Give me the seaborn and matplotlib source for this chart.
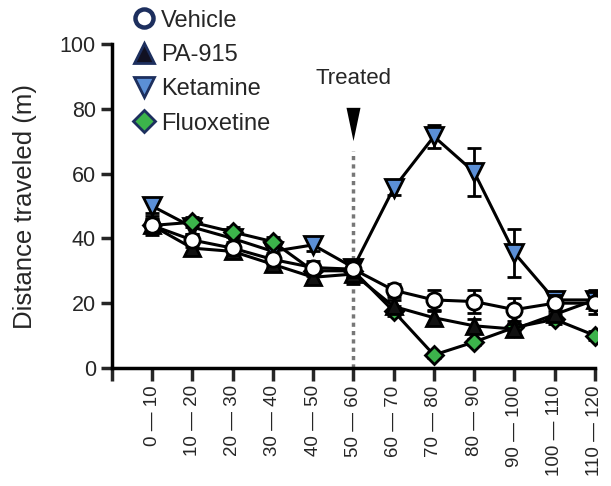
import matplotlib

matplotlib.use("Agg")

import matplotlib.pyplot as plt
import pandas as pd
import seaborn as sns
from matplotlib.lines import Line2D

# Time bins (min) and group means / SEM
bins = ["0 — 10", "10 — 20", "20 — 30", "30 — 40", "40 — 50", "50 — 60",
        "60 — 70", "70 — 80", "80 — 90", "90 — 100", "100 — 110", "110 — 120"]
groups = ["Ketamine", "Fluoxetine", "PA-915", "Vehicle"]  # draw order (Vehicle on top)

vehicle = [44, 39.5, 37, 33.5, 31, 30.5, 24, 21, 20.5, 18, 20, 20]
vehicle_sem = [3, 2, 2, 2, 2, 2.5, 2, 3, 3.5, 3.5, 2.5, 3.5]
pa915 = [44, 37, 36, 32, 28, 29, 19, 15.5, 13, 12, 16.5, 21]
pa915_sem = [2, 2, 2, 2, 2, 3, 2, 2, 2, 1.5, 2, 3]
ketamine = [50, 43.5, 40, 36, 38, 31, 55.5, 71.5, 60.5, 35.5, 21, 21]
ketamine_sem = [2, 2, 2, 2, 2, 2, 2, 3.5, 7.5, 7.5, 2, 2]
fluoxetine = [44, 45, 42, 39, 30, 30, 17.5, 4, 8, 12.5, 15, 10]
fluoxetine_sem = [2, 1.5, 1.5, 1.5, 1.5, 2, 1.5, 1, 1, 1, 1.5, 1.5]

means = {"Vehicle": vehicle, "PA-915": pa915, "Ketamine": ketamine, "Fluoxetine": fluoxetine}
sems = {"Vehicle": vehicle_sem, "PA-915": pa915_sem, "Ketamine": ketamine_sem, "Fluoxetine": fluoxetine_sem}

treated_bin = 6  # 50—60

styles = {
    "Vehicle": dict(marker="o", color="white", size=11),
    "PA-915": dict(marker="^", color="#111111", size=11),
    "Ketamine": dict(marker="v", color="#5b8fd6", size=12.5),
    "Fluoxetine": dict(marker="D", color="#3cb44b", size=9),
}

rows = []
for g in groups:
    for i, b in enumerate(bins):
        rows.append({"group": g, "pos": i + 1, "bin": b, "mean": means[g][i], "sem": sems[g][i]})
df = pd.DataFrame(rows)

sns.set_style("ticks")
plt.rcParams["font.family"] = ["Liberation Sans", "DejaVu Sans"]

fig = plt.figure(figsize=(6.11, 4.86), dpi=100)
ax = fig.add_axes([0.183, 0.243, 0.794, 0.666])

for z, g in enumerate(groups):
    sub = df[df["group"] == g]
    st = styles[g]
    ax.errorbar(sub["pos"], sub["mean"], yerr=sub["sem"], fmt="none", ecolor="black",
                elinewidth=2, capsize=5, capthick=2, zorder=2 + z * 3)
    sns.lineplot(data=sub, x="pos", y="mean", color="black", linewidth=2.2, ax=ax,
                 legend=False, zorder=3 + z * 3)
    ax.plot(sub["pos"], sub["mean"], linestyle="none", marker=st["marker"],
            markersize=st["size"], markerfacecolor=st["color"], markeredgecolor="black",
            markeredgewidth=2, zorder=4 + z * 3)

# treatment marker: dotted line, narrow arrowhead and label
ax.plot([treated_bin, treated_bin], [0, 67], linestyle=(0, (1.2, 1.2)), color="#777777",
        linewidth=2.5, zorder=1)
ax.plot([treated_bin], [75.3], marker=[(-0.42, 1), (0.42, 1), (0, -1)], markersize=24,
        color="black", markeredgewidth=0, clip_on=False)
ax.text(treated_bin, 89.5, "Treated", ha="center", va="center", fontsize=16)

ax.set_xlim(0, 12.05)
ax.set_ylim(0, 100)
ax.set_xticks(range(0, 13))
ax.set_xticklabels([""] + bins, rotation=90, fontsize=13.5)
ax.set_yticks([0, 20, 40, 60, 80, 100])
ax.tick_params(axis="y", labelsize=15.5, width=2.5, length=8, direction="out")
ax.tick_params(axis="x", width=2.5, length=9, direction="out")
ax.set_xlabel("")
ax.set_ylabel("Distance traveled (m)", fontsize=18.5, labelpad=16)
sns.despine(ax=ax)
for s in ("left", "bottom"):
    ax.spines[s].set_linewidth(2.5)
    ax.spines[s].set_color("black")
ax.spines["bottom"].set_bounds(0, 12)

navy = "#1d2f5e"
handles = [
    Line2D([], [], linestyle="none", marker="o", markersize=13, markerfacecolor="white",
           markeredgecolor=navy, markeredgewidth=3.2),
    Line2D([], [], linestyle="none", marker="^", markersize=15, markerfacecolor="#111122",
           markeredgecolor=navy, markeredgewidth=2),
    Line2D([], [], linestyle="none", marker="v", markersize=15, markerfacecolor="#5b8fd6",
           markeredgecolor=navy, markeredgewidth=2),
    Line2D([], [], linestyle="none", marker="D", markersize=11, markerfacecolor="#3cb44b",
           markeredgecolor=navy, markeredgewidth=2),
]
fig.legend(handles, ["Vehicle", "PA-915", "Ketamine", "Fluoxetine"], loc="upper left",
           bbox_to_anchor=(0.188, 1.014), frameon=False, fontsize=17, handletextpad=0.15,
           labelspacing=0.52, borderpad=0.2, handlelength=1.1)

fig.savefig("out.png", dpi=100)
